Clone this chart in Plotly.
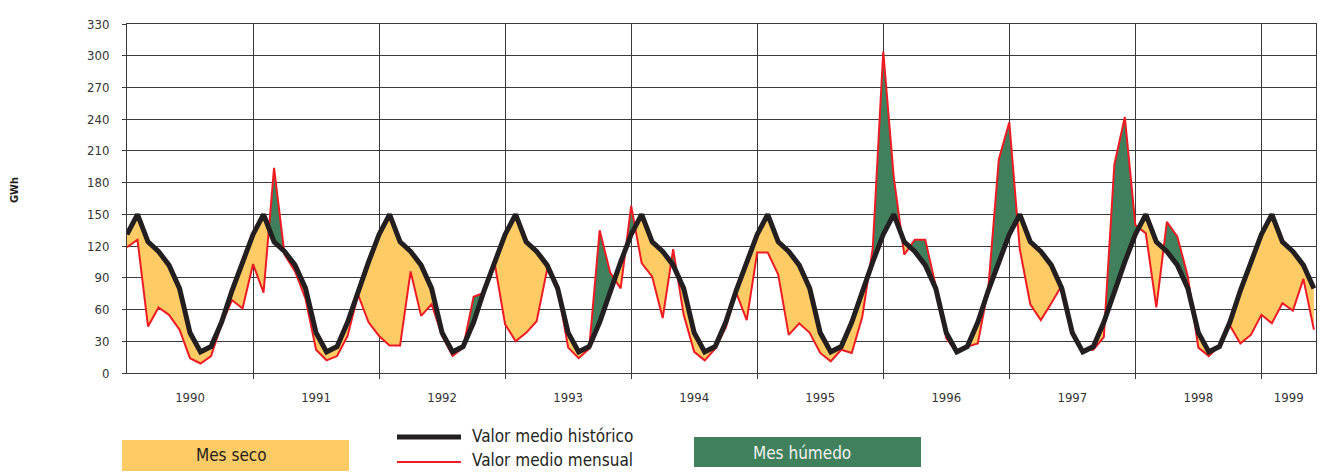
import plotly.graph_objects as go

# Years shown along the horizontal axis (each year starts at its gridline)
anios = ["1990", "1991", "1992", "1993", "1994", "1995", "1996", "1997", "1998", "1999"]

# Historical mean for each month of the year (GWh)
media_historica = [131, 150, 124, 115, 102, 80, 38, 20, 25, 48, 78, 105]

# Monthly mean value, month by month from the start of 1990 (GWh)
valor_mensual = [
    119, 126, 44, 62, 55, 41, 14, 9, 16, 46, 69, 61,        # 1990
    103, 76, 194, 112, 96, 70, 22, 12, 16, 35, 74, 48,      # 1991
    35, 26, 26, 96, 54, 65, 35, 16, 24, 72, 76, 104,        # 1992
    46, 30, 38, 49, 98, 80, 24, 14, 23, 135, 95, 80,        # 1993
    158, 104, 91, 52, 117, 55, 20, 12, 23, 43, 76, 50,      # 1994
    114, 114, 93, 36, 47, 38, 19, 11, 22, 19, 53, 118,      # 1995
    304, 185, 112, 126, 126, 82, 33, 19, 25, 28, 80, 202,   # 1996
    237, 117, 65, 50, 66, 83, 37, 22, 22, 34, 197, 242,     # 1997
    140, 132, 62, 143, 129, 91, 24, 16, 26, 45, 28, 36,     # 1998
    55, 47, 66, 59, 89, 41,                                 # 1999
]

FONT = "Liberation Sans Narrow, DejaVu Sans Condensed, Arial Narrow, sans-serif"
NEGRO = "#231f20"
ROJO = "#ed1c24"
AMARILLO = "#fecb65"
VERDE = "#40805c"
REJILLA = "#3a3a3a"

n = len(valor_mensual)
meses = list(range(n))
historico = [media_historica[i % 12] for i in meses]

# Build a path that includes the crossing points of both series so the
# dry (below) and wet (above) areas can be filled separately.
xs, hs, ms = [], [], []
for i in range(n):
    xs.append(i)
    hs.append(historico[i])
    ms.append(valor_mensual[i])
    if i < n - 1:
        d0 = valor_mensual[i] - historico[i]
        d1 = valor_mensual[i + 1] - historico[i + 1]
        if d0 * d1 < 0:
            t = d0 / (d0 - d1)
            yc = historico[i] + t * (historico[i + 1] - historico[i])
            xs.append(i + t)
            hs.append(yc)
            ms.append(yc)
superior = [max(a, b) for a, b in zip(ms, hs)]
inferior = [min(a, b) for a, b in zip(ms, hs)]

fig = go.Figure()
# wet months: area between historical mean and the higher monthly value
fig.add_trace(go.Scatter(x=xs, y=hs, mode="lines", line=dict(width=0), hoverinfo="skip"))
fig.add_trace(go.Scatter(x=xs, y=superior, mode="lines", line=dict(width=0),
                         fill="tonexty", fillcolor=VERDE, hoverinfo="skip"))
# dry months: area between the lower monthly value and the historical mean
fig.add_trace(go.Scatter(x=xs, y=inferior, mode="lines", line=dict(width=0), hoverinfo="skip"))
fig.add_trace(go.Scatter(x=xs, y=hs, mode="lines", line=dict(width=0),
                         fill="tonexty", fillcolor=AMARILLO, hoverinfo="skip"))
# monthly and historical lines
fig.add_trace(go.Scatter(x=meses, y=valor_mensual, mode="lines",
                         line=dict(color=ROJO, width=2)))
fig.add_trace(go.Scatter(x=meses, y=historico, mode="lines",
                         line=dict(color=NEGRO, width=5)))

W, H = 1320, 472
L, R, T, B = 127, 4, 24, 99
pw, ph = W - L - R, H - T - B


def px(xp):
    return (xp - L) / pw


def py(yp):
    return (H - B - yp) / ph


x_max = n - 1 + 0.2
limites = list(range(12, n, 12))
centros = [6 + 12 * k for k in range(len(anios) - 1)] + [(108 + x_max) / 2]

fig.update_layout(
    width=W, height=H,
    margin=dict(l=L, r=R, t=T, b=B),
    plot_bgcolor="white", paper_bgcolor="white",
    showlegend=False,
    font=dict(family=FONT, color="#333333"),
    xaxis=dict(
        range=[0, x_max],
        tickmode="array", tickvals=centros, ticktext=anios,
        ticks="", showgrid=False,
        tickfont=dict(size=13, color="#333333"),
        ticklabelstandoff=12,
        showline=True, linecolor=REJILLA, linewidth=1, mirror=True,
        minor=dict(tickmode="array", tickvals=limites, showgrid=True,
                   gridcolor=REJILLA, gridwidth=1,
                   ticks="outside", ticklen=5, tickcolor=REJILLA),
        zeroline=False,
    ),
    yaxis=dict(
        range=[0, 330],
        tickmode="array", tickvals=list(range(0, 331, 30)),
        ticks="outside", ticklen=4, tickcolor=REJILLA,
        tickfont=dict(size=13, color="#333333"),
        ticklabelstandoff=10,
        showgrid=True, gridcolor=REJILLA, gridwidth=1,
        showline=True, linecolor=REJILLA, linewidth=1, mirror=True,
        zeroline=False,
    ),
)

shapes = [
    # legend boxes and line samples
    dict(type="rect", xref="paper", yref="paper",
         x0=px(122), x1=px(349), y0=py(440), y1=py(471),
         fillcolor=AMARILLO, line=dict(width=0)),
    dict(type="rect", xref="paper", yref="paper",
         x0=px(694), x1=px(921), y0=py(437), y1=py(467),
         fillcolor=VERDE, line=dict(width=0)),
    dict(type="line", xref="paper", yref="paper",
         x0=px(397), x1=px(461), y0=py(437), y1=py(437),
         line=dict(color=NEGRO, width=5)),
    dict(type="line", xref="paper", yref="paper",
         x0=px(397), x1=px(461), y0=py(462), y1=py(462),
         line=dict(color=ROJO, width=2)),
]

annotations = [
    dict(text="<b>GWh</b>", xref="paper", yref="paper", x=px(14), y=py(190),
         textangle=-90, showarrow=False, font=dict(size=11, color=NEGRO),
         xanchor="center", yanchor="middle"),
    dict(text="Mes seco", xref="paper", yref="paper", x=px(231), y=py(455),
         showarrow=False, font=dict(size=17, color=NEGRO),
         xanchor="center", yanchor="middle"),
    dict(text="Valor medio histórico", xref="paper", yref="paper", x=px(470), y=py(436),
         showarrow=False, font=dict(size=17, color=NEGRO),
         xanchor="left", yanchor="middle"),
    dict(text="Valor medio mensual", xref="paper", yref="paper", x=px(470), y=py(460),
         showarrow=False, font=dict(size=17, color=NEGRO),
         xanchor="left", yanchor="middle"),
    dict(text="Mes húmedo", xref="paper", yref="paper", x=px(802), y=py(453),
         showarrow=False, font=dict(size=17, color="#f2f2f2"),
         xanchor="center", yanchor="middle"),
]

fig.update_layout(shapes=shapes, annotations=annotations)
fig.write_html("out.html")
